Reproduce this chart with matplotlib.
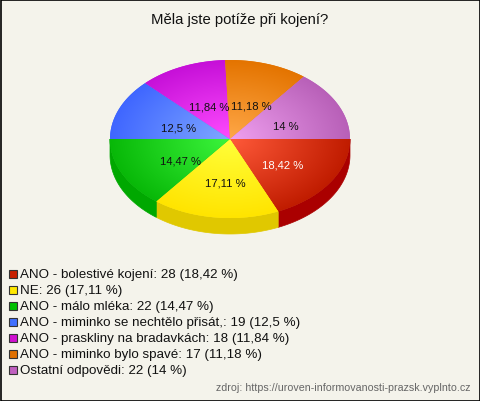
import numpy as np
import matplotlib
matplotlib.use("Agg")
import matplotlib.pyplot as plt
from matplotlib.patches import Polygon, Rectangle
from matplotlib.colors import to_rgb

# data
title = "Měla jste potíže při kojení?"
labels = [
    "ANO - bolestivé kojení",
    "NE",
    "ANO - málo mléka",
    "ANO - miminko se nechtělo přisát,",
    "ANO - praskliny na bradavkách",
    "ANO - miminko bylo spavé",
    "Ostatní odpovědi",
]
counts = [28, 26, 22, 19, 18, 17, 22]
percents = ["18,42", "17,11", "14,47", "12,5", "11,84", "11,18", "14"]
source = "zdroj: https://uroven-informovanosti-prazsk.vyplnto.cz"

# colours: legend, light (centre), dark (rim), side wall
legend_colors = ["#c82000", "#ffe800", "#00c000", "#4070ff", "#d010d0", "#e07000", "#c060c0"]
light_colors = ["#ff5a3a", "#ffff3a", "#3cf53c", "#80a8ff", "#ff4cff", "#ffa848", "#f0a0f0"]
dark_colors = ["#c01c00", "#ffe400", "#08b808", "#3f66ff", "#c610d8", "#e47400", "#b860b8"]
side_colors = ["#aa0000", "#e0c800", "#00a800", "#2a4ccc", "#a000a8", "#c05a00", "#a04aa0"]
bg = "#f4f3eb"

W, H = 480, 402
cx, cy, rx, ry, depth = 230, 140, 120, 79, 16

fig = plt.figure(figsize=(W / 100, H / 100), dpi=100, facecolor=bg)
ax = fig.add_axes([0, 0, 1, 1])
ax.set_facecolor(bg)

total = sum(counts)
edges = np.concatenate([[0], np.cumsum(counts)]) / total * 360.0


def arc(a, b, dy=0.0, n=80):
    t = np.radians(np.linspace(a, b, n))
    return np.column_stack([cx + rx * np.cos(t), cy + ry * np.sin(t) + dy])


# side walls (front half only)
for i in range(len(counts)):
    a, b = max(edges[i], 0), min(edges[i + 1], 180)
    if b <= a:
        continue
    top = arc(a, b)
    bot = arc(b, a, depth)
    ax.add_patch(Polygon(np.vstack([top, bot]), closed=True, facecolor=side_colors[i],
                         edgecolor=side_colors[i], linewidth=0.5, zorder=1))

# radial gradient field over the pie
x0, x1, y0, y1 = cx - rx, cx + rx, cy - ry, cy + ry
gx, gy = np.meshgrid(np.linspace(x0, x1, 480), np.linspace(y0, y1, 316))
r = np.clip(np.sqrt(((gx - cx) / rx) ** 2 + ((gy - cy) / ry) ** 2), 0, 1)[..., None]

for i in range(len(counts)):
    pts = np.vstack([[cx, cy], arc(edges[i], edges[i + 1])])
    wedge = Polygon(pts, closed=True, facecolor=dark_colors[i], edgecolor="none", zorder=2)
    ax.add_patch(wedge)
    lc = np.array(to_rgb(light_colors[i]))
    dc = np.array(to_rgb(dark_colors[i]))
    img = lc * (1 - r) + dc * r
    im = ax.imshow(img, extent=(x0, x1, y1, y0), origin="upper", interpolation="bilinear",
                   zorder=3)
    im.set_clip_path(wedge)

    mid = np.radians((edges[i] + edges[i + 1]) / 2)
    ax.text(cx + 3 + 0.49 * rx * np.cos(mid), cy + 4 + 0.5 * ry * np.sin(mid),
            percents[i] + " %", ha="center", va="center", fontsize=8.1,
            family="Liberation Sans", color="white" if i == 0 else "#111111", zorder=5)

# title
ax.text(240, 20, title, ha="center", va="center", fontsize=10.7,
        family="Liberation Sans", color="#111111")

# legend
for i, lab in enumerate(labels):
    y = 275 + i * 16
    ax.add_patch(Rectangle((8.5, y - 4), 8, 8, facecolor=legend_colors[i],
                           edgecolor="#333333", linewidth=0.8, zorder=4))
    ax.text(20, y, f"{lab}: {counts[i]} ({percents[i]} %)", ha="left", va="center",
            fontsize=9.65, family="Liberation Sans", color="#111111")

ax.text(470, 388, source, ha="right", va="center", fontsize=7.65,
        family="Liberation Sans", color="#666666")

# frame
ax.add_patch(Rectangle((0.5, 0.5), W - 1, H - 1, facecolor="none", edgecolor="black",
                       linewidth=1.2, zorder=6))

ax.set_xlim(0, W)
ax.set_ylim(H, 0)
ax.set_aspect("auto")
ax.axis("off")

fig.savefig("out.png", dpi=100, facecolor=bg)
